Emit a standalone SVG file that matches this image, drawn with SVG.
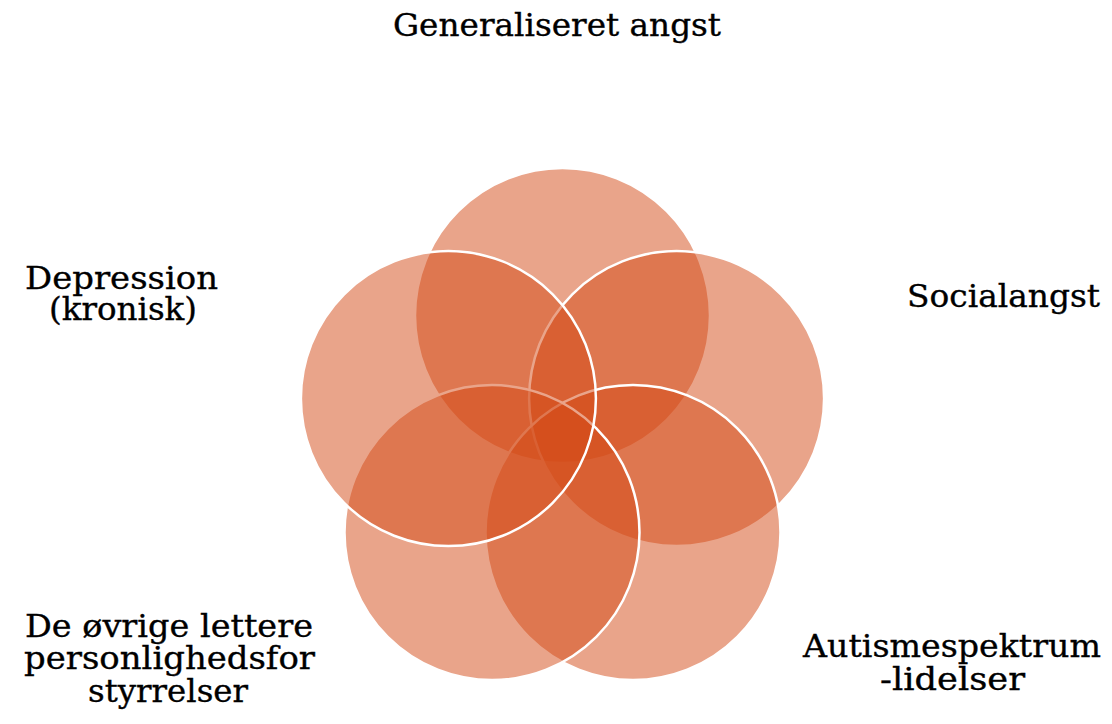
<svg xmlns="http://www.w3.org/2000/svg" width="1112" height="724" viewBox="0 0 1112 724">
<style>
.c{fill:rgb(211,73,21);fill-opacity:0.5;stroke:#ffffff;stroke-width:2.5}
.t{font-family:"DejaVu Serif","Liberation Serif",serif;font-size:31px;fill:#000000;stroke:#000000;stroke-width:0.35;text-anchor:middle}
</style>
<rect width="1112" height="724" fill="#ffffff"/>
<g id="node-generaliseret">
<circle class="c" cx="562.5" cy="315.5" r="147.5"/>
<text class="t" x="557" y="36" textLength="328" lengthAdjust="spacingAndGlyphs">Generaliseret angst</text>
</g>
<g id="node-social">
<circle class="c" cx="676.6" cy="398.6" r="147.5"/>
<text class="t" x="1003.5" y="307" textLength="193" lengthAdjust="spacingAndGlyphs">Socialangst</text>
</g>
<g id="node-autisme">
<circle class="c" cx="633" cy="532.6" r="147.5"/>
<text class="t" x="952" y="657" textLength="298" lengthAdjust="spacingAndGlyphs">Autismespektrum</text>
<text class="t" x="952.5" y="690" textLength="145" lengthAdjust="spacingAndGlyphs">-lidelser</text>
</g>
<g id="node-personlighed">
<circle class="c" cx="492" cy="532.6" r="147.5"/>
<text class="t" x="169" y="637" textLength="288" lengthAdjust="spacingAndGlyphs">De øvrige lettere</text>
<text class="t" x="169.5" y="669" textLength="291" lengthAdjust="spacingAndGlyphs">personlighedsfor</text>
<text class="t" x="168" y="702" textLength="160" lengthAdjust="spacingAndGlyphs">styrrelser</text>
</g>
<g id="node-depression">
<circle class="c" cx="448.4" cy="398.6" r="147.5"/>
<text class="t" x="121.5" y="289" textLength="193" lengthAdjust="spacingAndGlyphs">Depression</text>
<text class="t" x="123" y="320" textLength="148" lengthAdjust="spacingAndGlyphs">(kronisk)</text>
</g>
<g id="connectors"></g>
</svg>
